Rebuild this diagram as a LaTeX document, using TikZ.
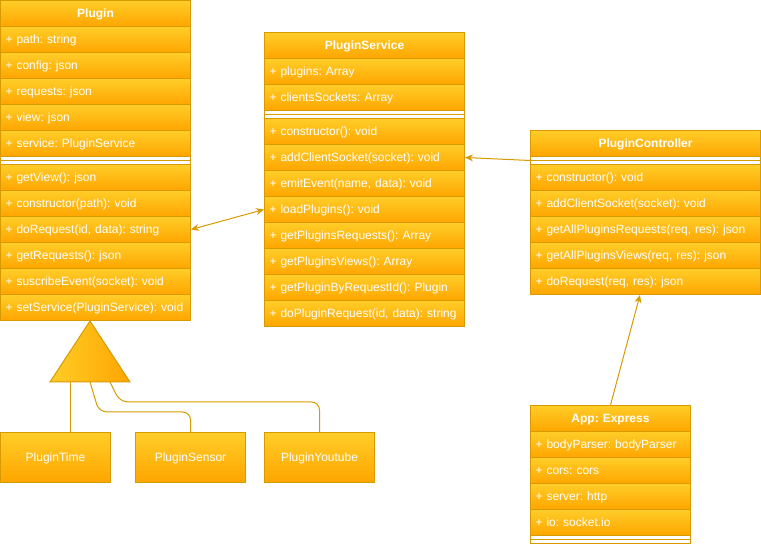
\documentclass[tikz,border=0pt]{standalone}
\usepackage{fontspec}
\setmainfont{Liberation Sans}
\usetikzlibrary{arrows.meta,calc}
\definecolor{topC}{HTML}{FFCD28}
\definecolor{botC}{HTML}{FFA500}
\definecolor{lineC}{HTML}{D79B00}
\frenchspacing
\begin{document}
\begin{tikzpicture}[x=1pt,y=-1pt,
  font=\fontsize{12}{14}\selectfont,
  cellbase/.style={draw=lineC, line width=1pt, top color=topC, bottom color=botC,
    anchor=north west, inner sep=0pt, inner xsep=5pt, text=white,
    minimum height=26pt, text height=8.6pt, text depth=0pt},
  member/.style={cellbase, text width=#1, align=left},
  header/.style={cellbase, text width=#1, align=center, font=\fontsize{12}{14}\selectfont\bfseries},
  sepbox/.style={draw=lineC, line width=1pt, fill=white, anchor=north west,
    minimum width=#1, minimum height=8pt, inner sep=0pt},
  leafbox/.style={cellbase, minimum width=110pt, minimum height=50pt, align=center},
  link/.style={draw=lineC, line width=1pt},
  tip/.style={-{Stealth[length=8pt,width=7pt]}},
  tips/.style={{Stealth[length=8pt,width=7pt]}-{Stealth[length=8pt,width=7pt]}}
]
\useasboundingbox (0,0) rectangle (761,545);

% ---------- Plugin ----------
\node[header=180pt] (plugin) at (0,0) {Plugin};
\foreach [count=\i] \t in {{+ path: string},{+ config: json},{+ requests: json},{+ view: json},{+ service: PluginService}}
  \node[member=180pt] (plugin-a\i) at (0,26*\i) {\t};
\node[sepbox=190pt] (plugin-sep) at (0,156) {};
\draw[link] (plugin-sep.west) -- (plugin-sep.east);
\foreach [count=\i] \t in {{+ getView(): json},{+ constructor(path): void},{+ doRequest(id, data): string},{+ getRequests(): json},{+ suscribeEvent(socket): void},{+ setService(PluginService): void}}
  \node[member=180pt] (plugin-m\i) at (0,138+26*\i) {\t};

% ---------- PluginService ----------
\node[header=190pt] (svc) at (264,32) {PluginService};
\foreach [count=\i] \t in {{+ plugins: Array},{+ clientsSockets: Array}}
  \node[member=190pt] (svc-a\i) at (264,32+26*\i) {\t};
\node[sepbox=200pt] (svc-sep) at (264,110) {};
\draw[link] (svc-sep.west) -- (svc-sep.east);
\foreach [count=\i] \t in {{+ constructor(): void},{+ addClientSocket(socket): void},{+ emitEvent(name, data): void},{+ loadPlugins(): void},{+ getPluginsRequests(): Array},{+ getPluginsViews(): Array},{+ getPluginByRequestId(): Plugin},{+ doPluginRequest(id, data): string}}
  \node[member=190pt] (svc-m\i) at (264,92+26*\i) {\t};

% ---------- PluginController ----------
\node[header=220pt] (ctrl) at (530,130) {PluginController};
\node[sepbox=230pt] (ctrl-sep) at (530,156) {};
\draw[link] (ctrl-sep.west) -- (ctrl-sep.east);
\foreach [count=\i] \t in {{+ constructor(): void},{+ addClientSocket(socket): void},{+ getAllPluginsRequests(req, res): json},{+ getAllPluginsViews(req, res): json},{+ doRequest(req, res): json}}
  \node[member=220pt] (ctrl-m\i) at (530,138+26*\i) {\t};

% ---------- App: Express ----------
\node[header=150pt] (app) at (530,405) {App: Express};
\foreach [count=\i] \t in {{+ bodyParser: bodyParser},{+ cors: cors},{+ server: http},{+ io: socket.io}}
  \node[member=150pt] (app-a\i) at (530,405+26*\i) {\t};
\node[sepbox=160pt] (app-sep) at (530,535) {};
\draw[link] (app-sep.west) -- (app-sep.east);

% ---------- Subclasses ----------
\node[leafbox] (ptime) at (0,432) {PluginTime};
\node[leafbox] (psensor) at (135,432) {PluginSensor};
\node[leafbox] (pyoutube) at (264,432) {PluginYoutube};

% ---------- Inheritance triangle ----------
\path[draw=lineC, line width=1pt, left color=topC, right color=botC]
  (50,382) -- (90,321) -- (130,382) -- cycle;
\coordinate (tri-a) at (70,382);
\coordinate (tri-b) at (90,382);
\coordinate (tri-c) at (110,382);
\draw[link] (tri-a) -- (tri-a |- ptime.north);
\draw[link, rounded corners=8pt] (tri-b) -- ++(9,30) -| (psensor.north);
\draw[link, rounded corners=8pt] (tri-c) -- ++(10,20) -| (pyoutube.north);

% ---------- Associations ----------
\draw[link, tips] (plugin-m3.east) -- (svc-m4.west);
\draw[link, tip] (ctrl-sep.west) -- (svc-m2.east);
\draw[link, tip] (app.north) -- ($(ctrl-m5.south west)+(110,0)$);
\end{tikzpicture}
\end{document}
